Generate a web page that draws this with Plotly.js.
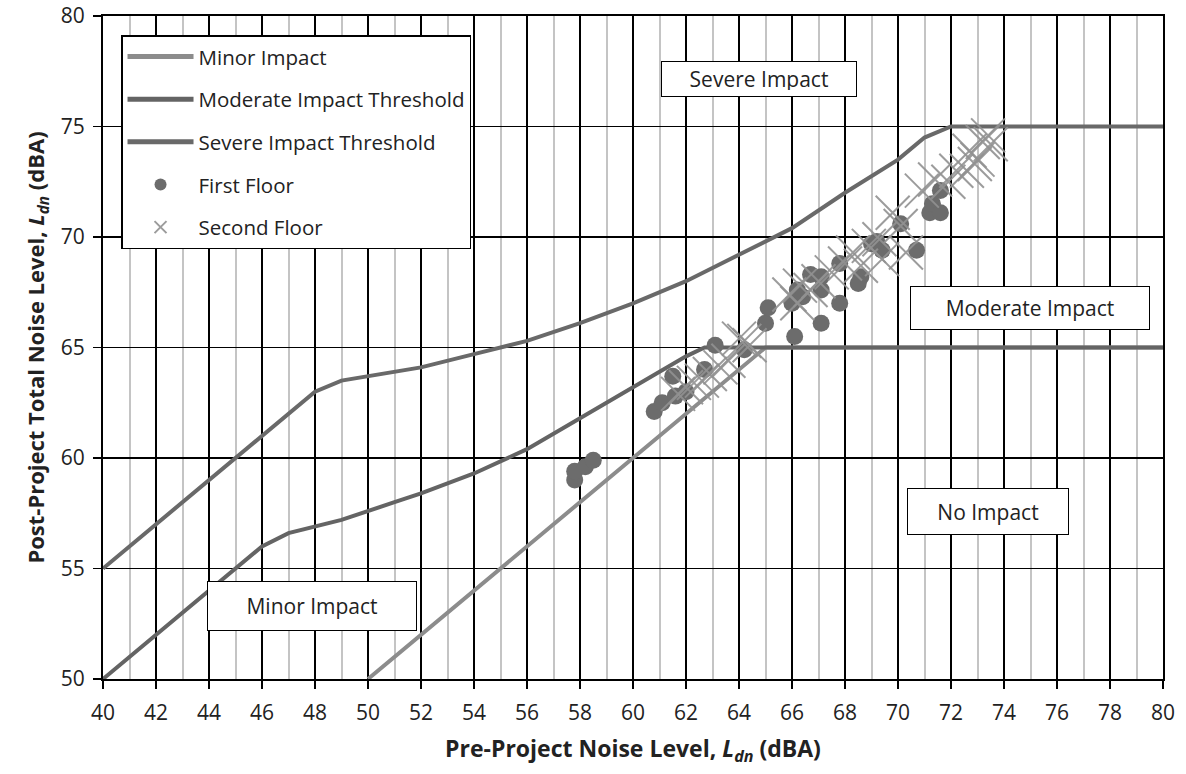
<!DOCTYPE html>
<html>
<head>
<meta charset="utf-8">
<script src="https://cdn.plot.ly/plotly-3.0.1.min.js"></script>
<style>html,body{margin:0;padding:0;background:#fff;}#chart{width:1186px;height:774px;}</style>
</head>
<body>
<div id="chart"></div>
<script>
// Threshold curves
const minorX = [50, 65, 80];
const minorY = [50, 65, 65];
const moderateX = [40, 46, 47, 49, 51, 52, 54, 56, 58, 60, 62, 62.7, 80];
const moderateY = [50, 56, 56.6, 57.2, 58, 58.4, 59.3, 60.4, 61.8, 63.2, 64.6, 65, 65];
const severeX = [40, 42, 44, 46, 48, 49, 50, 52, 54, 56, 58, 60, 62, 64, 66, 68, 70, 71, 72, 80];
const severeY = [55, 57, 59, 61, 63, 63.5, 63.7, 64.1, 64.7, 65.3, 66.1, 67.0, 68.0, 69.2, 70.4, 72.0, 73.5, 74.5, 75, 75];

// Receptors
const firstFloorX = [57.8, 57.8, 58.2, 58.5, 60.8, 61.1, 61.5, 61.6, 62.0, 62.7, 63.1, 64.2, 65.0, 65.1, 66.1, 66.0, 66.2, 66.4, 66.7, 67.1, 67.1, 67.1, 67.8, 67.8, 68.6, 68.5, 69.0, 69.4, 69.2, 70.1, 70.7, 71.2, 71.3, 71.6, 71.6];
const firstFloorY = [59.0, 59.4, 59.6, 59.9, 62.1, 62.5, 63.7, 62.8, 63.0, 64.0, 65.1, 64.9, 66.1, 66.8, 65.5, 67.0, 67.6, 67.3, 68.3, 68.2, 66.1, 67.6, 68.8, 67.0, 68.2, 67.9, 69.7, 69.4, 69.8, 70.6, 69.4, 71.1, 71.5, 71.1, 72.1];
const secondFloorX = [61.7, 62.0, 62.3, 62.6, 62.9, 63.3, 63.6, 64.0, 64.2, 64.4, 65.9, 66.2, 66.3, 66.7, 67.0, 67.5, 68.0, 68.3, 68.6, 68.9, 69.3, 69.4, 69.8, 70.1, 70.3, 70.9, 71.4, 71.9, 72.2, 72.6, 72.7, 72.9, 73.2, 73.4, 73.5, 73.0];
const secondFloorY = [62.9, 63.2, 63.4, 63.5, 63.8, 64.1, 64.4, 65.4, 65.3, 65.1, 67.4, 67.0, 67.8, 67.6, 68.0, 68.4, 68.8, 69.3, 68.7, 69.6, 69.9, 69.0, 71.1, 70.5, 69.3, 72.1, 72.6, 72.5, 73.0, 73.0, 73.9, 73.3, 74.3, 74.6, 74.2, 73.5];

const xTicks = [40,42,44,46,48,50,52,54,56,58,60,62,64,66,68,70,72,74,76,78,80];
const yTicks = [50,55,60,65,70,75,80];

const FONT = '"Open Sans", "Noto Sans", sans-serif';

const traces = [
  {x: minorX, y: minorY, mode: 'lines', name: 'Minor Impact', legendgroup: 'a',
   line: {color: 'rgb(140,140,140)', width: 4}},
  {x: moderateX, y: moderateY, mode: 'lines', name: 'Moderate Impact Threshold', legendgroup: 'b',
   line: {color: 'rgb(100,100,100)', width: 4}},
  {x: severeX, y: severeY, mode: 'lines', name: 'Severe Impact Threshold', legendgroup: 'c',
   line: {color: 'rgb(105,105,105)', width: 4}},
  {x: firstFloorX, y: firstFloorY, mode: 'markers', name: 'First Floor', legendgroup: 'd',
   marker: {symbol: 'circle', size: 17, color: 'rgb(108,108,108)'}},
  {x: secondFloorX, y: secondFloorY, mode: 'markers', name: 'Second Floor', legendgroup: 'e',
   marker: {symbol: 'x-thin-open', size: 34, color: 'rgba(145,145,145,0.9)', line: {width: 2, color: 'rgba(145,145,145,0.9)'}}}
];

const boxAnn = (text, x, y, w, h) => ({
  x: x, y: y, xref: 'x', yref: 'y', text: text, showarrow: false,
  font: {family: FONT, size: 21, color: '#222'},
  bgcolor: '#fff', bordercolor: '#000', borderwidth: 1, borderpad: 6,
  width: w, height: h
});

const layout = {
  width: 1186, height: 774,
  margin: {l: 103, r: 23, t: 16, b: 95},
  paper_bgcolor: '#fff', plot_bgcolor: '#fff',
  showlegend: true,
  legend: {
    x: 0.017, y: 0.971, xanchor: 'left', yanchor: 'top',
    bgcolor: '#fff', bordercolor: '#000', borderwidth: 1.5,
    font: {family: FONT, size: 20.5, color: '#222'},
    traceorder: 'grouped', tracegroupgap: 13, itemsizing: 'constant', itemwidth: 66
  },
  xaxis: {
    range: [40, 80], tickvals: xTicks, ticktext: xTicks.map(String),
    showgrid: true, gridcolor: '#000', gridwidth: 1.8,
    minor: {dtick: 1, tick0: 40, showgrid: true, gridcolor: '#c4c4c4', gridwidth: 2, ticks: ''},
    ticks: 'outside', ticklen: 8, tickwidth: 1.5, tickcolor: '#000',
    showline: true, linecolor: '#000', linewidth: 2, mirror: true,
    zeroline: false, ticklabelstandoff: 6,
    tickfont: {family: FONT, size: 21, color: '#222'},
    title: {text: '<b>Pre-Project Noise Level, <i>L<sub>dn</sub></i> (dBA)</b>', font: {family: FONT, size: 23, color: '#222'}, standoff: 16}
  },
  yaxis: {
    range: [50, 80], tickvals: yTicks, ticktext: yTicks.map(String),
    showgrid: true, gridcolor: '#000', gridwidth: 1.8,
    ticks: 'outside', ticklen: 8, tickwidth: 1.5, tickcolor: '#000',
    showline: true, linecolor: '#000', linewidth: 2, mirror: true,
    zeroline: false, ticklabelstandoff: 4,
    tickfont: {family: FONT, size: 21, color: '#222'},
    title: {text: '<b>Post-Project Total Noise Level, <i>L<sub>dn</sub></i> (dBA)</b>', font: {family: FONT, size: 22, color: '#222'}, standoff: 10}
  },
  annotations: [
    boxAnn('Severe Impact', 64.75, 77.15, 182, 22),
    boxAnn('Moderate Impact', 74.98, 66.8, 226, 30),
    boxAnn('No Impact', 73.4, 57.6, 148, 33),
    boxAnn('Minor Impact', 47.9, 53.3, 196, 36)
  ]
};

Plotly.newPlot('chart', traces, layout, {staticPlot: true});
</script>
</body>
</html>
